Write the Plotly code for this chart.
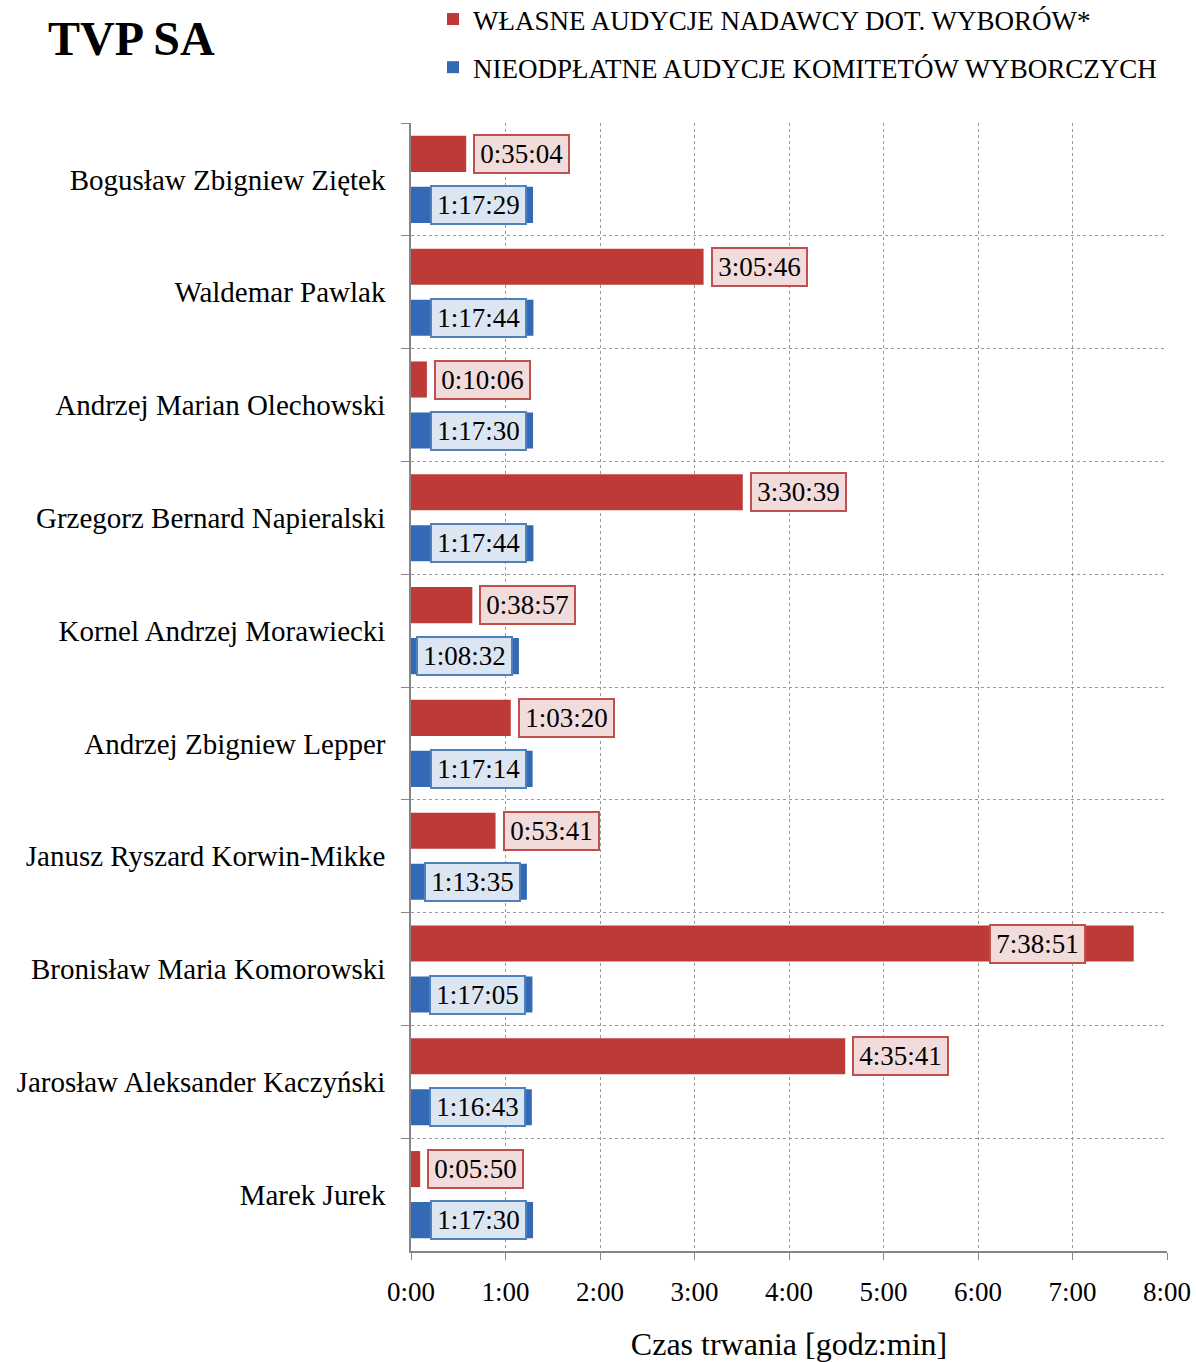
import plotly.graph_objects as go

candidates = [
    "Bogusław Zbigniew Ziętek",
    "Waldemar Pawlak",
    "Andrzej Marian Olechowski",
    "Grzegorz Bernard Napieralski",
    "Kornel Andrzej Morawiecki",
    "Andrzej Zbigniew Lepper",
    "Janusz Ryszard Korwin-Mikke",
    "Bronisław Maria Komorowski",
    "Jarosław Aleksander Kaczyński",
    "Marek Jurek",
]
own_broadcasts = ["0:35:04", "3:05:46", "0:10:06", "3:30:39", "0:38:57",
                  "1:03:20", "0:53:41", "7:38:51", "4:35:41", "0:05:50"]
free_broadcasts = ["1:17:29", "1:17:44", "1:17:30", "1:17:44", "1:08:32",
                   "1:17:14", "1:13:35", "1:17:05", "1:16:43", "1:17:30"]
series_names = ["WŁASNE AUDYCJE NADAWCY DOT. WYBORÓW*",
                "NIEODPŁATNE AUDYCJE KOMITETÓW WYBORCZYCH"]
tick_hours = [0, 1, 2, 3, 4, 5, 6, 7, 8]
tick_labels = ["0:00", "1:00", "2:00", "3:00", "4:00", "5:00", "6:00", "7:00", "8:00"]


def to_hours(s):
    h, m, sec = (int(p) for p in s.split(":"))
    return h + m / 60 + sec / 3600


own_h = [to_hours(s) for s in own_broadcasts]
free_h = [to_hours(s) for s in free_broadcasts]

FONT = "Liberation Serif, Times New Roman, serif"
RED = "#BE3A36"
BLUE = "#3469B5"
BAR_W = 0.32
PAD = "\u200a"  # hair space for a little extra horizontal padding in label boxes

W, H = 1196, 1362
L, T = 411, 123
PW, PH = 756, 1128

fig = go.Figure()
fig.add_trace(go.Bar(
    y=candidates, x=own_h, orientation="h", name=series_names[0],
    marker=dict(color=RED, line=dict(width=0)),
    width=BAR_W, offset=-0.226 - BAR_W / 2, legendgroup="a",
    hoverinfo="skip",
))
fig.add_trace(go.Bar(
    y=candidates, x=free_h, orientation="h", name=series_names[1],
    marker=dict(color=BLUE, line=dict(width=0)),
    width=BAR_W, offset=0.226 - BAR_W / 2, legendgroup="b",
    hoverinfo="skip",
))

annotations = []
max_h = max(own_h)
for cat, v, txt in zip(candidates, own_h, own_broadcasts):
    inside = v == max_h
    annotations.append(dict(
        x=v, y=cat, xref="x", yref="y", text=PAD + txt + PAD, showarrow=False,
        xanchor="right" if inside else "left",
        xshift=-48 if inside else 7, yshift=25.5,
        font=dict(family=FONT, size=27, color="#000000"),
        bgcolor="#F2DCDB", bordercolor="#C0504D", borderwidth=2, borderpad=3,
    ))
for cat, v, txt in zip(candidates, free_h, free_broadcasts):
    annotations.append(dict(
        x=v, y=cat, xref="x", yref="y", text=PAD + txt + PAD, showarrow=False,
        xanchor="right", xshift=-6, yshift=-25.5,
        font=dict(family=FONT, size=27, color="#000000"),
        bgcolor="#DCE6F2", bordercolor="#4F81BD", borderwidth=2, borderpad=3,
    ))

fig.update_layout(
    width=W, height=H,
    margin=dict(l=L, r=W - L - PW, t=T, b=H - T - PH, autoexpand=False),
    paper_bgcolor="white", plot_bgcolor="white",
    barmode="overlay",
    font=dict(family=FONT, color="#000000"),
    title=dict(text="<b>TVP SA</b>", xref="container", yref="container",
               x=48 / W, xanchor="left", y=1 - 38 / H, yanchor="middle",
               font=dict(family=FONT, size=48, color="#000000")),
    legend=dict(x=(433 - L) / PW, xanchor="left", y=1 + (T + 5) / PH,
                yanchor="top", font=dict(family=FONT, size=27, color="#000000"),
                traceorder="grouped", tracegroupgap=10, bgcolor="rgba(0,0,0,0)"),
    annotations=annotations,
    xaxis=dict(
        range=[0, 8], tickvals=tick_hours, ticktext=tick_labels,
        showgrid=True, gridcolor="#9A9A9A", griddash="3px,3px", gridwidth=1,
        zeroline=False, showline=True, linecolor="#868686", linewidth=1.5,
        ticks="outside", ticklen=7, tickcolor="#868686",
        tickfont=dict(family=FONT, size=27, color="#000000"),
        ticklabelstandoff=9,
        title=dict(text="Czas trwania [godz:min]", standoff=26,
                   font=dict(family=FONT, size=32, color="#000000")),
        fixedrange=True,
    ),
    yaxis=dict(
        autorange="reversed", type="category", tickson="boundaries",
        showgrid=True, gridcolor="#9A9A9A", griddash="3px,3px", gridwidth=1,
        showline=True, linecolor="#868686", linewidth=1.5,
        ticks="outside", ticklen=8, tickcolor="#868686",
        tickfont=dict(family=FONT, size=29, color="#000000"),
        ticklabelstandoff=18,
        fixedrange=True,
    ),
)

fig.write_html(
    "out.html",
    config={"displayModeBar": False},
    post_script="document.body.style.margin='0';document.body.style.overflow='hidden';",
)
